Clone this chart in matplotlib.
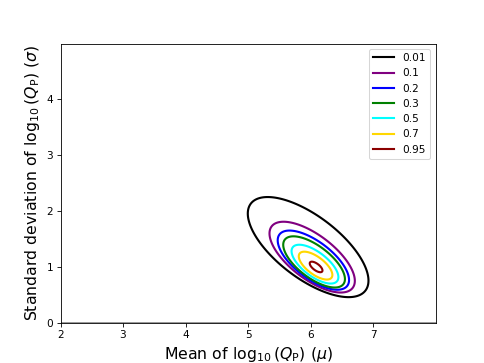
import numpy as np
import matplotlib
matplotlib.use("Agg")
import matplotlib.pyplot as plt
from matplotlib.lines import Line2D

# contour levels (relative likelihood) and their colours
levels = [0.01, 0.1, 0.2, 0.3, 0.5, 0.7, 0.95]
colors = ['black', 'purple', 'blue', 'green', 'cyan', 'gold', 'darkred']

# likelihood surface: tilted ellipses whose centre
# drifts towards larger sigma / smaller mu for the outer levels
mu_best = 6.09
sigma_best = 1.0
sd_mu = 0.318
sd_sig = 0.295
rho = -0.67
drift_mu = -0.014   # centre shift per unit of squared distance
drift_sig = 0.039

mu = np.linspace(2, 8, 700)
sig = np.linspace(0, 5, 700)
M, S = np.meshgrid(mu, sig)

cov = np.array([[sd_mu**2, rho * sd_mu * sd_sig],
                [rho * sd_mu * sd_sig, sd_sig**2]])
B = np.linalg.inv(cov)
delta = np.array([drift_mu, drift_sig])

# squared distance t solving (p - c0 - delta*t)' B (p - c0 - delta*t) = t
ax_ = M - mu_best
ay_ = S - sigma_best
aBa = B[0, 0] * ax_**2 + 2 * B[0, 1] * ax_ * ay_ + B[1, 1] * ay_**2
aBd = (B[0, 0] * delta[0] + B[0, 1] * delta[1]) * ax_ + (B[0, 1] * delta[0] + B[1, 1] * delta[1]) * ay_
dBd = delta @ B @ delta
bq = 2 * aBd + 1
disc = bq**2 - 4 * dBd * aBa
d2 = np.where(disc > 0, (bq - np.sqrt(np.clip(disc, 0, None))) / (2 * dBd), 100.0)
d2 = np.where(d2 < 0, 100.0, d2)
L = np.exp(-0.5 * d2)

fig, ax = plt.subplots(figsize=(6.4, 4.8), dpi=75.625)
ax.contour(M, S, L, levels=levels, colors=colors, linewidths=2)
ax.axhline(0, color='grey', lw=1.5)

handles = [Line2D([], [], color=c, lw=2) for c in colors]
ax.legend(handles, [str(l) for l in levels], loc='upper right')

ax.set_xlim(2, 8)
ax.set_ylim(0, 5)
ax.set_xticks([2, 3, 4, 5, 6, 7])
ax.set_yticks([0, 1, 2, 3, 4])
ax.set_xlabel(r'Mean of $\log_{10}(Q_{\mathrm{P}})$ ($\mu$)', fontsize=15)
ax.set_ylabel(r'Standard deviation of $\log_{10}(Q_{\mathrm{P}})$ ($\sigma$)', fontsize=15)

fig.savefig('out.png')
